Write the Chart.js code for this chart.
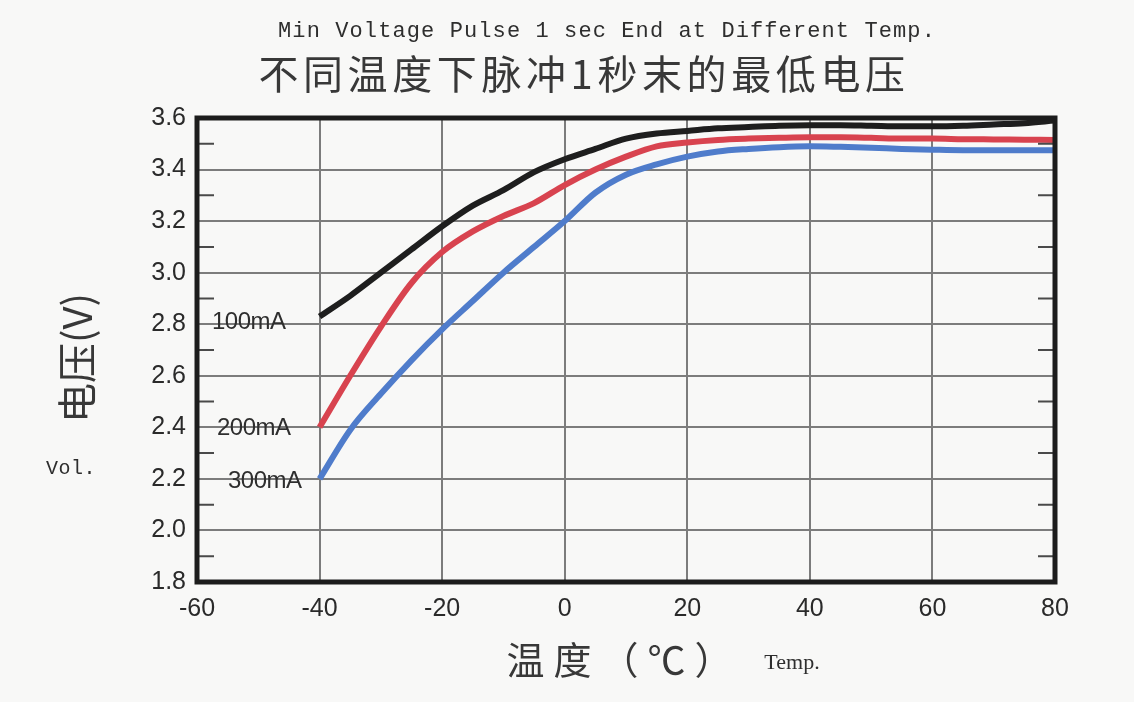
<!DOCTYPE html>
<html>
<head>
<meta charset="utf-8">
<script src="https://cdn.jsdelivr.net/npm/chart.js@4.4.1/dist/chart.umd.min.js"></script>
<style>
  html, body { margin: 0; padding: 0; background: #f8f8f7; }
  #wrap { position: relative; width: 1134px; height: 702px; overflow: hidden; }
  #wrap canvas { position: absolute; left: 0; top: 0; }
  .txt { position: absolute; white-space: nowrap; color: #2e2e2e; transform: translate(-50%, -50%); line-height: 1; }
  .titleEn { font-family: "Liberation Mono", monospace; font-size: 22px; letter-spacing: 1.1px; }
  .titleCn { font-family: "Noto Sans CJK SC", sans-serif; font-size: 40px; letter-spacing: 4.6px; color: #383838; }
  .axisCn { font-family: "Noto Sans CJK SC", sans-serif; font-size: 38px; letter-spacing: 9px; color: #383838; }
  .yTitle { font-family: "Noto Sans CJK SC", sans-serif; font-size: 40px; color: #383838; transform: translate(-50%, -50%) rotate(-90deg); }
  .small { font-family: "Liberation Mono", monospace; font-size: 20px; letter-spacing: 0.5px; }
  .temp { font-family: "Liberation Serif", serif; font-size: 22px; }
  .series { font-family: "Liberation Sans", Arial, sans-serif; font-size: 24px; transform: translate(0, -50%); letter-spacing: -0.5px; }
</style>
</head>
<body>
<div id="wrap">
  <canvas id="c" width="1134" height="702"></canvas>
  <div class="txt titleEn" style="left:607px; top:32px;">Min Voltage Pulse 1 sec End at Different Temp.</div>
  <div class="txt titleCn" style="left:584px; top:72px;">不同温度下脉冲1秒末的最低电压</div>
  <div class="txt yTitle" style="left:75px; top:358px;">电压(V)</div>
  <div class="txt small" style="left:71px; top:469px;">Vol.</div>
  <div class="txt axisCn" style="left:624px; top:658px;">温度（℃）</div>
  <div class="txt temp" style="left:792px; top:662px;">Temp.</div>
  <div class="txt series" style="left:212px; top:321px;">100mA</div>
  <div class="txt series" style="left:217px; top:427px;">200mA</div>
  <div class="txt series" style="left:228px; top:480px;">300mA</div>
</div>
<script>
// 温度（℃）
const temps = [-40, -35, -30, -25, -20, -15, -10, -5, 0, 5, 10, 15, 20, 25, 30, 35, 40, 45, 50, 55, 60, 65, 70, 75, 80];

// 最低电压 (V)
const v100mA = [2.83, 2.91, 3.00, 3.09, 3.18, 3.26, 3.32, 3.39, 3.44, 3.48, 3.52, 3.54, 3.55, 3.56, 3.565, 3.57, 3.572, 3.572, 3.57, 3.568, 3.568, 3.57, 3.575, 3.58, 3.59];
const v200mA = [2.40, 2.60, 2.79, 2.96, 3.08, 3.16, 3.22, 3.27, 3.34, 3.40, 3.45, 3.49, 3.505, 3.515, 3.52, 3.523, 3.525, 3.525, 3.523, 3.52, 3.52, 3.518, 3.517, 3.516, 3.515];
const v300mA = [2.20, 2.39, 2.53, 2.66, 2.78, 2.89, 3.00, 3.10, 3.20, 3.31, 3.38, 3.42, 3.45, 3.47, 3.48, 3.487, 3.49, 3.488, 3.485, 3.48, 3.477, 3.475, 3.475, 3.475, 3.475];

const xTicks = [-60, -40, -20, 0, 20, 40, 60, 80];

const isMajor = v => Math.round(v * 10) % 2 === 0;

// 外枠 + 内側の小目盛り
const framePlugin = {
  id: "frame",
  afterDraw(chart) {
    const { ctx, chartArea: a, scales } = chart;
    const y = scales.y;
    ctx.save();
    ctx.strokeStyle = "#4a4a4a";
    ctx.lineWidth = 2;
    y.ticks.forEach(t => {
      if (isMajor(t.value)) return;
      const py = y.getPixelForValue(t.value);
      ctx.beginPath();
      ctx.moveTo(a.left, py); ctx.lineTo(a.left + 17, py);
      ctx.moveTo(a.right, py); ctx.lineTo(a.right - 17, py);
      ctx.stroke();
    });
    ctx.strokeStyle = "#1c1c1c";
    ctx.lineWidth = 5;
    ctx.strokeRect(a.left, a.top, a.right - a.left, a.bottom - a.top);
    ctx.restore();
  }
};

const line = (data, color) => ({
  data: temps.map((t, i) => ({ x: t, y: data[i] })),
  borderColor: color,
  borderWidth: 6,
  pointRadius: 0,
  tension: 0.4,
  cubicInterpolationMode: "monotone",
  fill: false,
});

new Chart(document.getElementById("c"), {
  type: "line",
  data: {
    datasets: [
      line(v300mA, "#4f7ccb"),
      line(v200mA, "#d8434f"),
      line(v100mA, "#1e1e1e"),
    ],
  },
  options: {
    responsive: false,
    animation: false,
    layout: { padding: { top: 118, right: 79, left: 0, bottom: 0 } },
    plugins: { legend: { display: false }, tooltip: { enabled: false } },
    scales: {
      x: {
        type: "linear",
        min: -60,
        max: 80,
        afterFit: s => { s.height = 120; },
        afterBuildTicks: s => { s.ticks = xTicks.map(v => ({ value: v })); },
        grid: { color: "#7c7c7c", lineWidth: 2, drawTicks: false },
        border: { display: false },
        ticks: {
          padding: 12,
          color: "#2a2a2a",
          font: { family: "Liberation Sans, Arial, sans-serif", size: 25 },
        },
      },
      y: {
        min: 1.8,
        max: 3.6,
        afterFit: s => { s.width = 197; },
        grid: {
          color: c => isMajor(c.tick.value) ? "#7c7c7c" : "rgba(0,0,0,0)",
          lineWidth: 2,
          drawTicks: false,
        },
        border: { display: false },
        ticks: {
          stepSize: 0.1,
          maxTicksLimit: 25,
          autoSkip: false,
          padding: 11,
          color: "#2a2a2a",
          font: { family: "Liberation Sans, Arial, sans-serif", size: 25 },
          callback: v => isMajor(v) ? Number(v).toFixed(1) : "",
        },
      },
    },
  },
  plugins: [framePlugin],
});
</script>
</body>
</html>
